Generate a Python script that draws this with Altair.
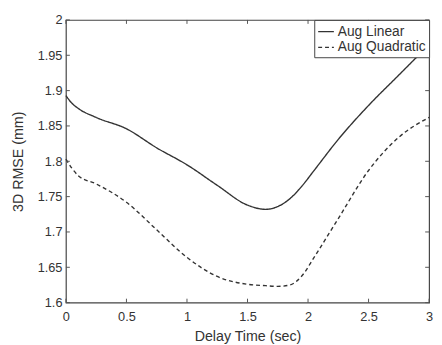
import altair as alt
import pandas as pd

# Data
delay = [0, 0.05, 0.1, 0.25, 0.5, 0.75, 1.0, 1.25, 1.5, 1.65, 1.75, 1.85, 1.95, 2.05, 2.25, 2.5, 2.75, 3.0]
aug_linear = [1.893, 1.882, 1.875, 1.862, 1.846, 1.819, 1.795, 1.766, 1.738, 1.732, 1.736, 1.747,
              1.765, 1.787, 1.831, 1.879, 1.922, 1.965]
aug_quadratic = [1.803, 1.79, 1.78, 1.768, 1.742, 1.703, 1.664, 1.637, 1.626, 1.624, 1.623, 1.625,
                 1.638, 1.664, 1.719, 1.787, 1.834, 1.862]
series_names = ["Aug Linear", "Aug Quadratic"]
x_ticks = [0, 0.5, 1, 1.5, 2, 2.5, 3]
y_ticks = [1.6, 1.65, 1.7, 1.75, 1.8, 1.85, 1.9, 1.95, 2.0]

W, H = 370, 288
FONT = "Liberation Sans"
INK = "#333333"

rows = []
for name, vals in zip(series_names, [aug_linear, aug_quadratic]):
    for x, v in zip(delay, vals):
        rows.append({"t": x, "v": v, "s": name})
df = pd.DataFrame(rows)

xscale = alt.Scale(domain=[0, 3], nice=False, zero=False)
yscale = alt.Scale(domain=[1.6, 2.0], nice=False, zero=False)
x_axis = alt.Axis(values=x_ticks, tickSize=0, labelPadding=8, titlePadding=7,
                  domain=False, grid=False, labelFlush=False, labelOverlap=False,
                  labelExpr="format(datum.value, '~g')")
y_axis = alt.Axis(values=y_ticks, tickSize=0, labelPadding=4, titlePadding=12,
                  domain=False, grid=False, labelFlush=False, labelOverlap=False,
                  labelExpr="format(datum.value, '~g')")
X_TITLE = "Delay Time (sec)"
Y_TITLE = "3D RMSE (mm)"

lines = alt.Chart(df).mark_line(strokeWidth=1.4, interpolate="monotone").encode(
    x=alt.X("t:Q", scale=xscale, title=X_TITLE, axis=x_axis),
    y=alt.Y("v:Q", scale=yscale, title=Y_TITLE, axis=y_axis),
    color=alt.Color("s:N", scale=alt.Scale(domain=series_names, range=[INK, INK]),
                    title=None,
                    legend=alt.Legend(orient="top-right", offset=0)),
    strokeDash=alt.StrokeDash("s:N", scale=alt.Scale(domain=series_names,
                                                     range=[[1, 0], [4, 3]]),
                              title=None),
)

xt = pd.DataFrame({"t": x_ticks})
yt = pd.DataFrame({"v": y_ticks})
tick_color = "#555555"
bottom = alt.Chart(xt).mark_rule(color=tick_color, strokeWidth=1).encode(
    x=alt.X("t:Q", scale=xscale, title=X_TITLE, axis=x_axis), y=alt.value(H), y2=alt.value(H - 4))
top = alt.Chart(xt).mark_rule(color=tick_color, strokeWidth=1).encode(
    x=alt.X("t:Q", scale=xscale, title=X_TITLE, axis=x_axis), y=alt.value(0), y2=alt.value(4))
left = alt.Chart(yt).mark_rule(color=tick_color, strokeWidth=1).encode(
    y=alt.Y("v:Q", scale=yscale, title=Y_TITLE, axis=y_axis), x=alt.value(0), x2=alt.value(4))
right = alt.Chart(yt).mark_rule(color=tick_color, strokeWidth=1).encode(
    y=alt.Y("v:Q", scale=yscale, title=Y_TITLE, axis=y_axis), x=alt.value(W), x2=alt.value(W - 4))

chart = alt.layer(lines, bottom, top, left, right).properties(
    width=W, height=H,
    autosize=alt.AutoSizeParams(type="none"),
    padding={"left": 59, "top": 9, "right": 5, "bottom": 40},
).configure_view(
    stroke="#444444", strokeWidth=1.2
).configure_axis(
    labelFont=FONT, titleFont=FONT, labelFontSize=13, titleFontSize=14.5,
    labelColor=INK, titleColor=INK, titleFontWeight="normal"
).configure_legend(
    labelFont=FONT, labelFontSize=14, labelColor=INK,
    symbolType="stroke", symbolSize=256, symbolStrokeWidth=1.3,
    strokeColor="#444444", fillColor="white", padding=3, rowPadding=0,
    labelOffset=3, cornerRadius=0
)

chart.save("out.html", embed_options={"renderer": "svg", "actions": False})
